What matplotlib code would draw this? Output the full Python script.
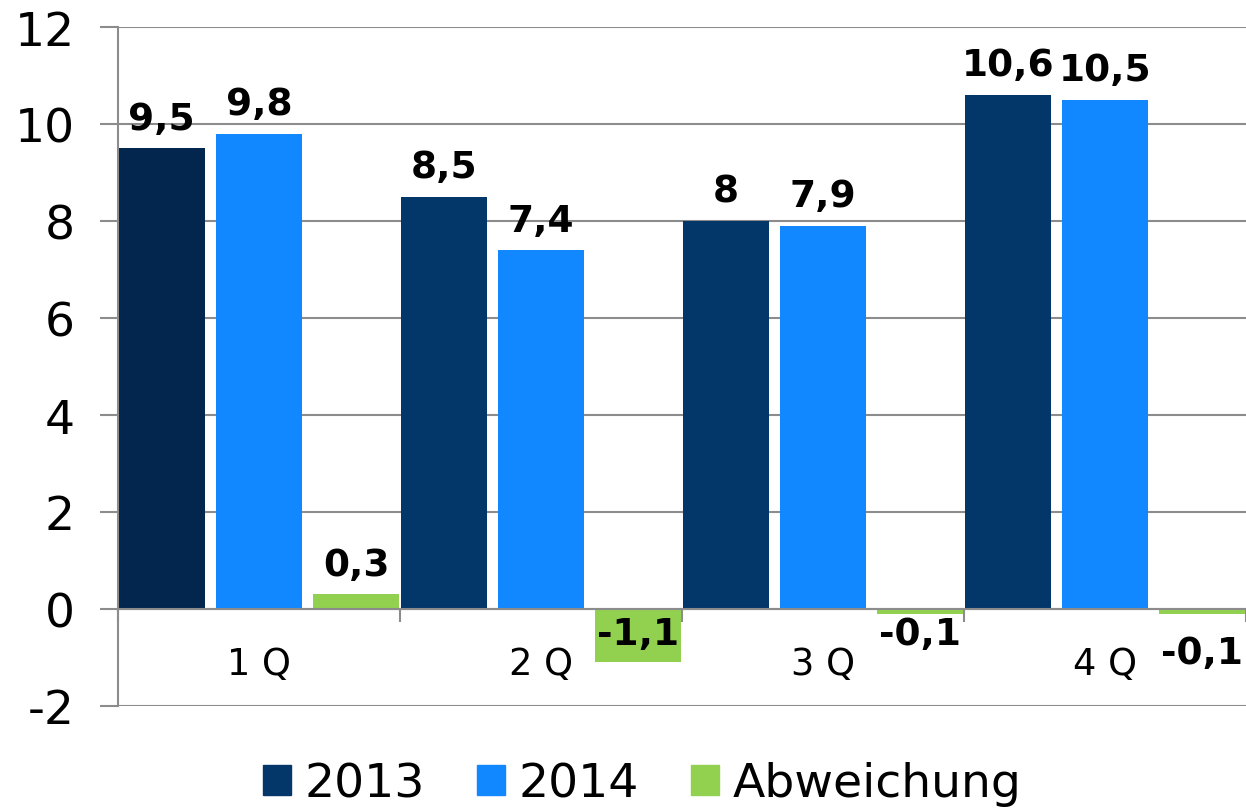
import numpy as np
import matplotlib.pyplot as plt
from matplotlib.patches import Patch

# Quartalswerte
quartale = ["1 Q", "2 Q", "3 Q", "4 Q"]
werte_2013 = [9.5, 8.5, 8.0, 10.6]
werte_2014 = [9.8, 7.4, 7.9, 10.5]
abweichung = [0.3, -1.1, -0.1, -0.1]
serien = ["2013", "2014", "Abweichung"]

FARBE_2013 = "#033669"
FARBE_2013_1Q = "#03264f"
FARBE_2014 = "#1188ff"
FARBE_ABW = "#92d050"
GRAU = "#8c8c8c"


def fmt(v):
    return f"{v:g}".replace(".", ",")


fig = plt.figure(figsize=(12.46, 8.12), dpi=100)
ax = fig.add_axes([118 / 1246, 1 - 707 / 812, 1 - 118 / 1246, (707 - 28) / 812])

x = np.arange(len(quartale))
breite = 0.305
versatz = 0.345

farben_2013 = [FARBE_2013_1Q] + [FARBE_2013] * (len(quartale) - 1)
ax.bar(x - versatz, werte_2013, breite, color=farben_2013, zorder=3)
ax.bar(x, werte_2014, breite, color=FARBE_2014, zorder=3)
ax.bar(x + versatz, abweichung, breite, color=FARBE_ABW, zorder=2)

# Datenbeschriftungen
for xs, vals in [(x - versatz, werte_2013), (x, werte_2014), (x + versatz, abweichung)]:
    for xi, v in zip(xs, vals):
        if v >= 0:
            ax.annotate(fmt(v), (xi, v), xytext=(0, 14), textcoords="offset points",
                        ha="center", va="baseline", fontsize=27, fontweight="bold",
                        annotation_clip=False, zorder=5)

# negative Werte: Excel schiebt die Labels unterschiedlich weit nach unten
neg_abstand = [0, 5, 5, 18.5]
for xi, v, d in zip(x + versatz, abweichung, neg_abstand):
    if v < 0:
        ax.annotate(fmt(v), (xi, 0), xytext=(0, -d), textcoords="offset points",
                    ha="center", va="top", fontsize=27, fontweight="bold",
                    annotation_clip=False, zorder=5)

ax.set_xlim(-0.5, len(quartale) - 0.5)
ax.set_ylim(-2, 12)
ax.set_yticks(np.arange(-2, 13, 2))
ax.set_yticklabels([str(v) for v in range(-2, 13, 2)])

ax.set_xticks(np.arange(-0.5, len(quartale), 1.0))
ax.set_xticklabels([])
ax.set_xticks(x, minor=True)
ax.set_xticklabels(quartale, minor=True)

ax.grid(axis="y", color=GRAU, linewidth=1.5, zorder=0)
ax.set_axisbelow(True)

for s in ["top", "right"]:
    ax.spines[s].set_visible(False)
ax.spines["left"].set_color(GRAU)
ax.spines["left"].set_linewidth(1.5)
ax.spines["bottom"].set_position(("data", 0))
ax.spines["bottom"].set_color(GRAU)
ax.spines["bottom"].set_linewidth(1.5)
ax.spines["bottom"].set_zorder(4)

ax.tick_params(axis="y", length=13, width=1.5, color=GRAU, labelsize=34, pad=18)
ax.tick_params(axis="x", which="major", length=9, width=1.5, color=GRAU, direction="out")
ax.tick_params(axis="x", which="minor", length=0, labelsize=26.5, pad=26)

handles = [Patch(color=FARBE_2013), Patch(color=FARBE_2014), Patch(color=FARBE_ABW)]
fig.legend(handles, serien, loc="center", bbox_to_anchor=(642 / 1246, 1 - 785 / 812),
           ncol=3, frameon=False, fontsize=34, handlelength=0.6, handleheight=0.6,
           handletextpad=0.28, columnspacing=1.1, borderaxespad=0)

plt.savefig("out.png", dpi=100)
plt.close()
